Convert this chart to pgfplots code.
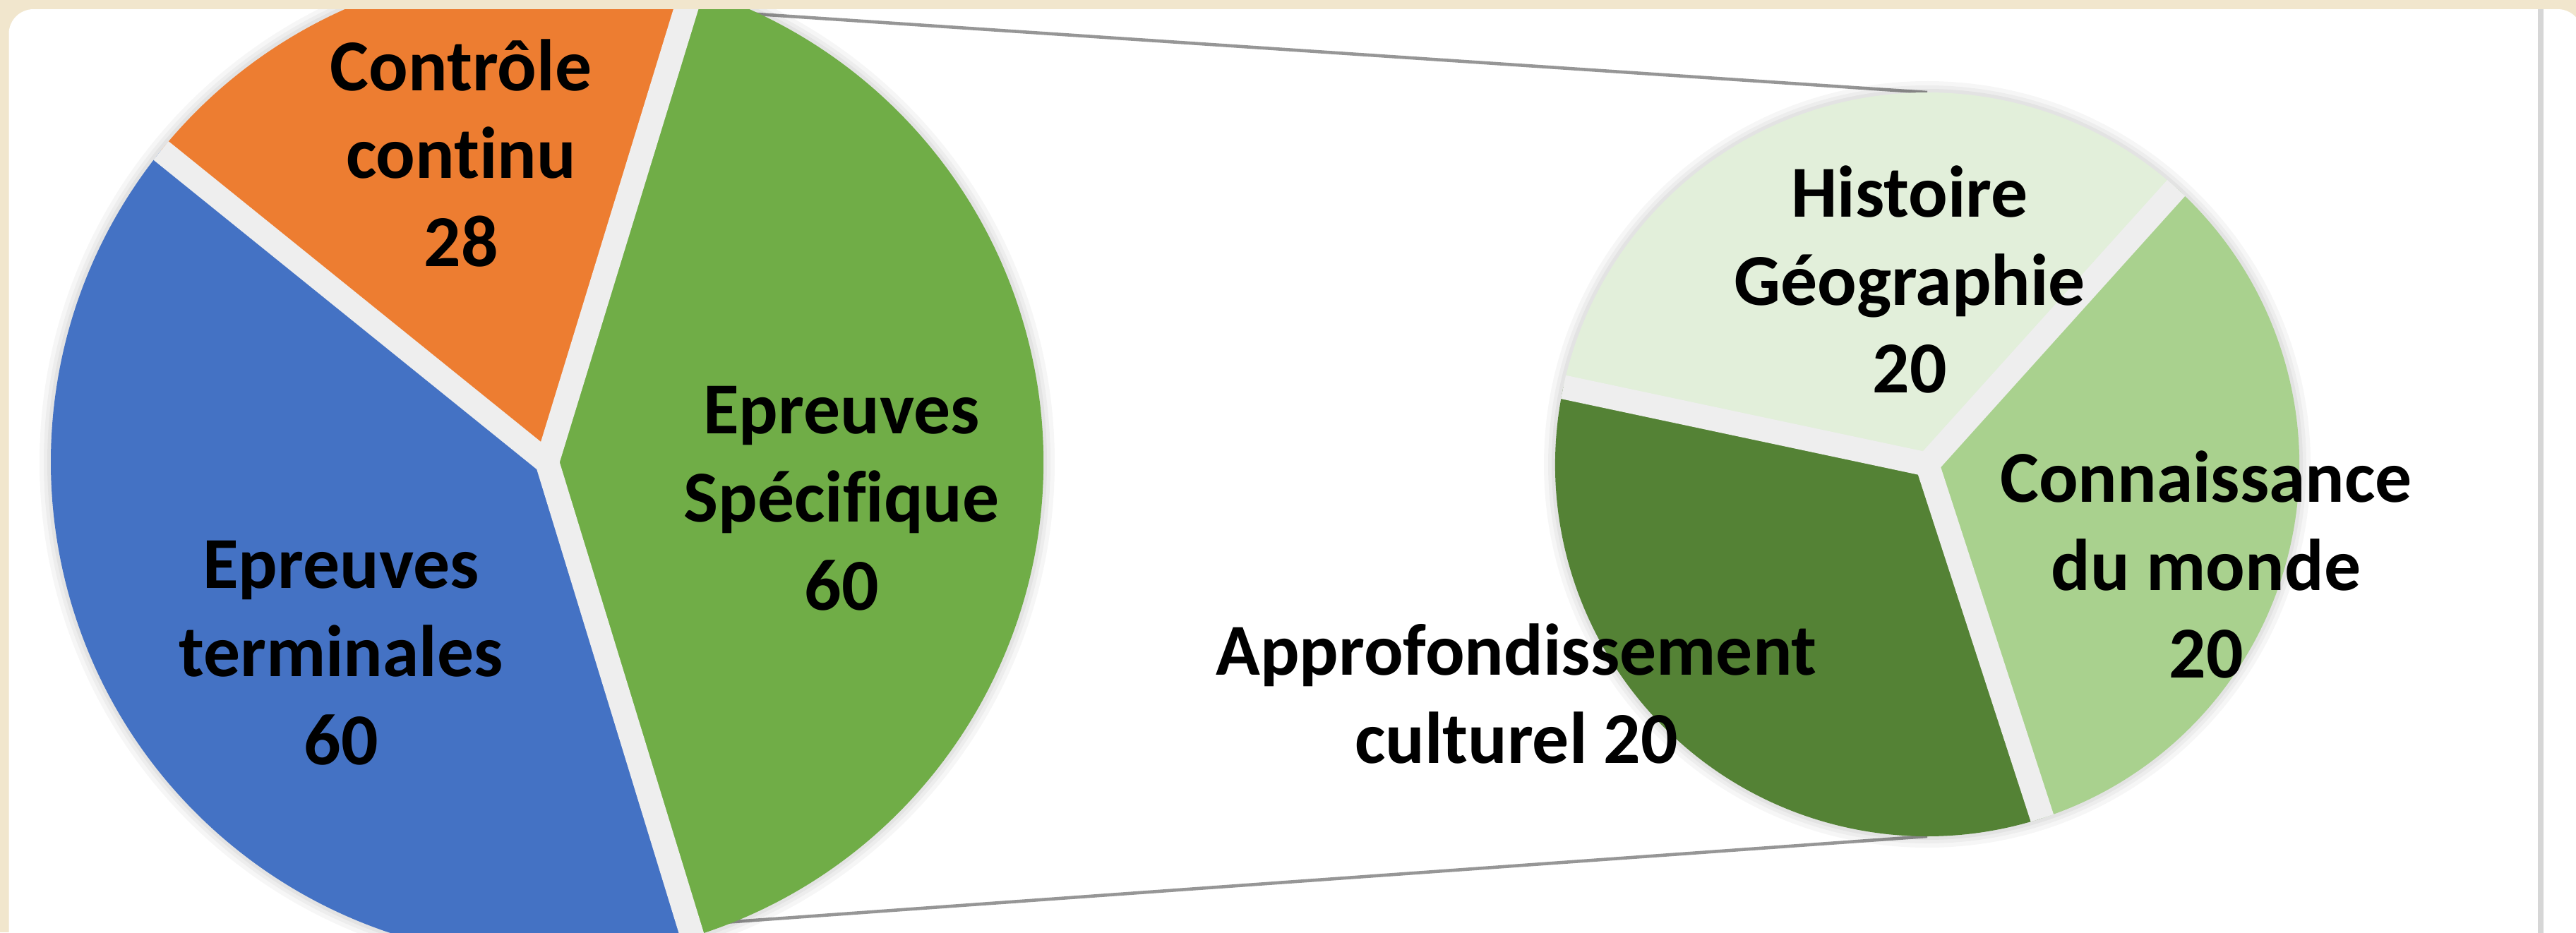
\documentclass[border=0pt]{standalone}
\usepackage{fontspec}
\setmainfont{Carlito}[Ligatures=NoCommon]
\usepackage{pgfplots}
\pgfplotsset{compat=1.18}
\definecolor{beige}{RGB}{241,230,205}
\definecolor{cOrange}{RGB}{237,125,49}
\definecolor{cBlue}{RGB}{68,114,196}
\definecolor{cGreen}{RGB}{112,173,71}
\definecolor{cLight}{RGB}{226,239,218}
\definecolor{cMid}{RGB}{169,209,142}
\definecolor{cDark}{RGB}{84,130,53}
\definecolor{gapc}{RGB}{238,238,238}
\definecolor{conn}{RGB}{150,150,150}
\definecolor{sepc}{RGB}{214,214,214}
% data
\def\vCC{28}\def\vET{60}\def\vES{60}
\def\vHG{20}\def\vCM{20}\def\vAC{20}
% geometry (axis units = cm)
\def\Lx{7.75}\def\Ly{6.66}\def\Lr{7.03}
\def\Rx{27.30}\def\Ry{6.63}\def\Rr{5.27}
\newcommand\slice[6]{% cx cy r a1 a2 colour
  \fill[#6] (axis cs:#1,#2) -- ([shift={(#4:#3)}]axis cs:#1,#2)
    arc[start angle=#4, end angle=#5, radius=#3] -- cycle;}
\newcommand\gapline[4]{% cx cy r angle
  \draw[gapc, line width=0.34cm] (axis cs:#1,#2) -- ([shift={(#4:#3)}]axis cs:#1,#2);}
\newcommand\glow[3]{%
  \fill[black, opacity=0.035] (axis cs:#1,#2) circle[radius=#3+0.16];
  \fill[black, opacity=0.035] (axis cs:#1,#2) circle[radius=#3+0.10];
  \fill[black, opacity=0.04] (axis cs:#1,#2) circle[radius=#3+0.05];}
\begin{document}
\begin{tikzpicture}
\pgfmathsetmacro\tot{\vCC+\vET+\vES}
\pgfmathsetmacro\aES{360/\tot*\vES}
\pgfmathsetmacro\sES{-\aES/2}
\pgfmathsetmacro\eES{\aES/2}
\pgfmathsetmacro\eCC{\eES+360/\tot*\vCC}
\pgfmathsetmacro\eET{\eCC+360/\tot*\vET}
\pgfmathsetmacro\rtot{\vHG+\vCM+\vAC}
\pgfmathsetmacro\sCM{-72}
\pgfmathsetmacro\eCM{\sCM+360/\rtot*\vCM}
\pgfmathsetmacro\eHG{\eCM+360/\rtot*\vHG}
\pgfmathsetmacro\eAC{\eHG+360/\rtot*\vAC}
\begin{axis}[name=ax, x=1cm, y=1cm, xmin=0, xmax=36.49, ymin=0, ymax=13.21,
  hide axis, clip=true, at={(0,0)}, anchor=south west]
% background
\fill[beige] (axis cs:0,0) rectangle (axis cs:36.49,13.21);
\fill[white, rounded corners=0.35cm] (axis cs:0.125,-0.6) rectangle (axis cs:36.58,13.08);
\fill[sepc] (axis cs:35.95,-0.1) rectangle (axis cs:36.03,13.08);
% connector lines
\draw[conn, line width=1.3pt] (axis cs:9.98,13.06) -- (axis cs:\Rx,\Ry+\Rr);
\draw[conn, line width=1.3pt] (axis cs:9.98,0.12) -- (axis cs:\Rx,\Ry-\Rr);
% left pie
\glow{\Lx}{\Ly}{\Lr}
\slice{\Lx}{\Ly}{\Lr}{\sES}{\eES}{cGreen}
\slice{\Lx}{\Ly}{\Lr}{\eES}{\eCC}{cOrange}
\slice{\Lx}{\Ly}{\Lr}{\eCC}{\eET}{cBlue}
\gapline{\Lx}{\Ly}{\Lr}{\sES}
\gapline{\Lx}{\Ly}{\Lr}{\eES}
\gapline{\Lx}{\Ly}{\Lr}{\eCC}
\fill[gapc] (axis cs:\Lx,\Ly) circle[radius=0.17];
% right pie
\glow{\Rx}{\Ry}{\Rr}
\slice{\Rx}{\Ry}{\Rr}{\sCM}{\eCM}{cMid}
\slice{\Rx}{\Ry}{\Rr}{\eCM}{\eHG}{cLight}
\slice{\Rx}{\Ry}{\Rr}{\eHG}{\eAC}{cDark}
\gapline{\Rx}{\Ry}{\Rr}{\sCM}
\gapline{\Rx}{\Ry}{\Rr}{\eCM}
\gapline{\Rx}{\Ry}{\Rr}{\eHG}
\fill[gapc] (axis cs:\Rx,\Ry) circle[radius=0.17];
% top border strip
\fill[beige] (axis cs:0,13.08) rectangle (axis cs:36.49,13.21);
% labels
\begin{scope}[every node/.style={font=\bfseries\fontsize{29.5}{35.5}\selectfont, align=center, text=black}]
\node at (axis cs:6.53,11.04) {Contrôle\\continu\\\vCC};
\node at (axis cs:4.83,3.96) {Epreuves\\terminales\\\vET};
\node at (axis cs:11.92,6.15) {Epreuves\\Spécifique\\\vES};
\node at (axis cs:27.05,9.25) {Histoire\\Géographie\\\vHG};
\node at (axis cs:31.25,5.21) {Connaissance\\du monde\\\vCM};
\node at (axis cs:21.48,3.38) {Approfondissement\\culturel \vAC};
\end{scope}
\end{axis}
\pgfresetboundingbox
\path[use as bounding box] (0,0) rectangle (36.49,13.21);
\end{tikzpicture}
\end{document}
